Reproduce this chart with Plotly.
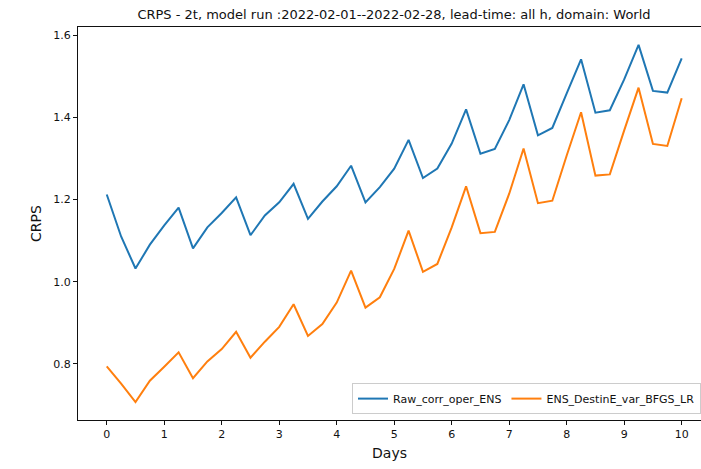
import plotly.graph_objects as go

days = [i * 0.25 for i in range(41)]

raw_corr_oper_ens = [
    1.212, 1.110, 1.032, 1.090, 1.137, 1.180, 1.081, 1.132, 1.167, 1.205,
    1.113, 1.161, 1.193, 1.238, 1.153, 1.195, 1.232, 1.282, 1.193, 1.230,
    1.275, 1.345, 1.252, 1.275, 1.336, 1.419, 1.311, 1.323, 1.393, 1.480,
    1.356, 1.374, 1.458, 1.541, 1.411, 1.417, 1.492, 1.576, 1.464, 1.460,
    1.543,
]

ens_destine_var_bfgs_lr = [
    0.794, 0.752, 0.707, 0.759, 0.793, 0.828, 0.765, 0.806, 0.836, 0.878,
    0.815, 0.854, 0.890, 0.945, 0.868, 0.897, 0.949, 1.027, 0.937, 0.962,
    1.031, 1.124, 1.024, 1.043, 1.132, 1.232, 1.118, 1.121, 1.214, 1.324,
    1.191, 1.197, 1.307, 1.412, 1.258, 1.261, 1.368, 1.472, 1.335, 1.330,
    1.446,
]

x_ticks = list(range(0, 11))
y_ticks = [0.8, 1.0, 1.2, 1.4, 1.6]

fig = go.Figure()
fig.add_trace(go.Scatter(x=days, y=raw_corr_oper_ens, mode="lines",
                         name="Raw_corr_oper_ENS",
                         line=dict(color="#1f77b4", width=2)))
fig.add_trace(go.Scatter(x=days, y=ens_destine_var_bfgs_lr, mode="lines",
                         name="ENS_DestinE_var_BFGS_LR",
                         line=dict(color="#ff7f0e", width=2)))

fig.update_layout(
    width=701, height=469,
    margin=dict(l=78, r=0, t=27, b=49),
    paper_bgcolor="white", plot_bgcolor="white",
    font=dict(family="DejaVu Sans", size=11, color="#111"),
    title=dict(text="CRPS - 2t, model run :2022-02-01--2022-02-28, lead-time: all h, domain: World",
               x=394 / 701, xanchor="center", y=0.97, yanchor="middle",
               font=dict(size=13, color="#111")),
    showlegend=True,
    legend=dict(orientation="h", x=1.0, xanchor="right", y=0.015, yanchor="bottom",
                bgcolor="rgba(255,255,255,0.8)", bordercolor="#cccccc", borderwidth=1,
                font=dict(size=11)),
    xaxis=dict(range=[-0.5, 10.336], tickvals=x_ticks, ticks="outside", ticklen=4,
               tickcolor="#111", showline=True, linecolor="#111", linewidth=1,
               mirror=True, showgrid=False, zeroline=False,
               title=dict(text="Days", font=dict(size=14), standoff=7)),
    yaxis=dict(range=[0.6635, 1.6195], tickvals=y_ticks, tickformat=".1f",
               ticks="outside", ticklen=4, tickcolor="#111", showline=True,
               linecolor="#111", linewidth=1, showgrid=False, zeroline=False,
               title=dict(text="CRPS", font=dict(size=14), standoff=8)),
)

fig.write_html("out.html")
